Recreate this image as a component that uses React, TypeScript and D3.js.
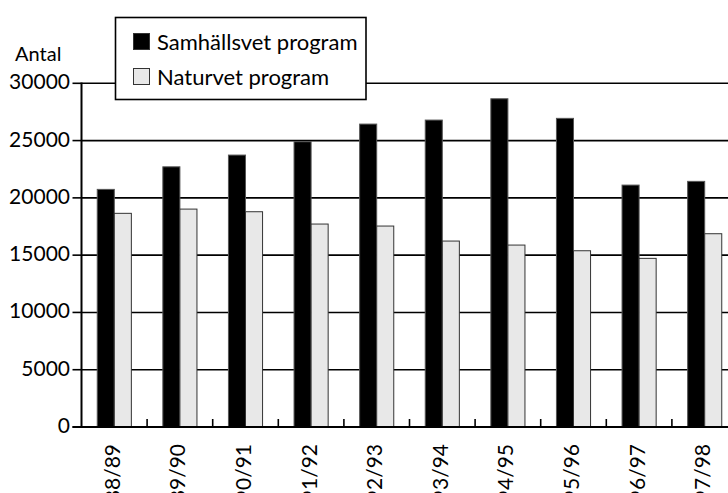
import React from 'react';
import * as d3 from 'd3';

const categories = ['88/89', '89/90', '90/91', '91/92', '92/93', '93/94', '94/95', '95/96', '96/97', '97/98'];
const samhallsvet = [20740, 22710, 23735, 24900, 26440, 26790, 28650, 26940, 21115, 21440];
const naturvet = [18650, 19020, 18790, 17715, 17540, 16230, 15880, 15385, 14720, 16870];
const seriesNames = ['Samhällsvet program', 'Naturvet program'];
const seriesColors = ['#000000', '#e8e8e8'];
const yTicks = [0, 5000, 10000, 15000, 20000, 25000, 30000];
const yTitle = 'Antal';

const W = 728;
const H = 493;
const FONT = 'Lato, "Open Sans", sans-serif';

export default function App() {
  const x0 = 81.5;
  const step = 65.6;
  const x = d3.scaleBand<string>().domain(categories).range([x0, x0 + step * categories.length]).paddingInner(0.48).paddingOuter(0.24);
  const xs = d3.scaleBand<string>().domain(seriesNames).range([0, x.bandwidth()]).padding(0);
  const y = d3.scaleLinear().domain([0, 30000]).range([427, 83.3]);
  const series = [samhallsvet, naturvet];

  return (
    <svg width={W} height={H} style={{ position: 'absolute', left: 0, top: 0, background: '#fff' }} fontFamily={FONT}>
      <rect width={W} height={H} fill="#fff" />
      {/* gridlines */}
      {yTicks.filter(t => t > 0).map(t => (
        <line key={t} x1={x0} x2={W + 20} y1={y(t)} y2={y(t)} stroke="#000" strokeWidth={1.6} />
      ))}
      {/* bars */}
      {categories.map((c, i) => (
        <g key={c} transform={`translate(${x(c)},0)`}>
          {series.map((s, j) => (
            <rect key={j} x={xs(seriesNames[j])} y={y(s[i])} width={xs.bandwidth()} height={y(0) - y(s[i])}
              fill={seriesColors[j]} stroke={j === 0 ? '#555' : '#333'} strokeWidth={1} />
          ))}
        </g>
      ))}
      {/* x-axis baseline */}
      <line x1={x0 - 9} x2={W + 20} y1={y(0)} y2={y(0)} stroke="#000" strokeWidth={2.2} />
      {/* category tick marks */}
      {categories.map((c, i) => (
        <line key={c} x1={x0 + step * (i + 1)} x2={x0 + step * (i + 1)} y1={y(0)} y2={y(0) - 8} stroke="#000" strokeWidth={1.6} />
      ))}
      {/* y axis */}
      <line x1={x0} x2={x0} y1={y(30000) - 0.8} y2={y(0)} stroke="#000" strokeWidth={2} />
      {yTicks.map(t => (
        <g key={t}>
          <line x1={x0 - 9} x2={x0} y1={y(t)} y2={y(t)} stroke="#000" strokeWidth={1.6} />
          <text x={70} y={y(t) + 6} textAnchor="end" fontSize={21} fill="#000">{t}</text>
        </g>
      ))}
      <text x={15} y={61} fontSize={20} fill="#000">{yTitle}</text>
      {/* x labels */}
      {categories.map(c => {
        const cx = (x(c) as number) + x.bandwidth() / 2 - 2;
        return (
          <text key={c} transform={`translate(${cx + 7.5},444) rotate(-90)`} textAnchor="end" fontSize={21} fill="#000">{c}</text>
        );
      })}
      {/* legend */}
      <rect x={115.5} y={17.5} width={250.5} height={82} fill="#fff" stroke="#000" strokeWidth={1.6} />
      {seriesNames.map((n, j) => (
        <g key={n} transform={`translate(0,${j * 35})`}>
          <rect x={133.5} y={33.5} width={16} height={16} fill={seriesColors[j]} stroke="#333" strokeWidth={1} />
          <text x={157} y={50} fontSize={22} fill="#000">{n}</text>
        </g>
      ))}
    </svg>
  );
}
